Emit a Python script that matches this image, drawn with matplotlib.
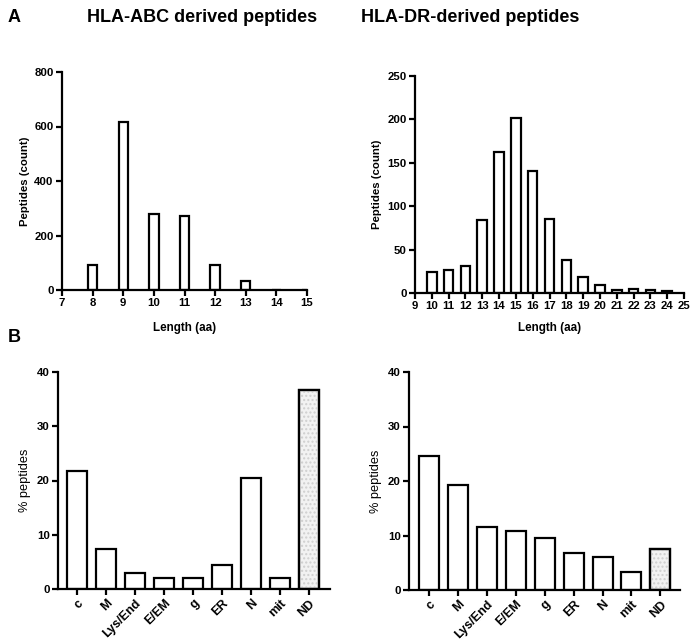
import matplotlib
matplotlib.use("Agg")
import matplotlib.pyplot as plt

plt.rcParams['font.family'] = ['Liberation Sans', 'DejaVu Sans']

# Peptide length distributions
abc_lengths = [8, 9, 10, 11, 12, 13, 14, 15]
abc_counts = [92, 615, 279, 270, 92, 34, 0, 0]

dr_lengths = [10, 11, 12, 13, 14, 15, 16, 17, 18, 19, 20, 21, 22, 23, 24]
dr_counts = [24, 26, 31, 84, 162, 202, 140, 85, 38, 18, 9, 3, 5, 3, 2]

# Subcellular localisation of source proteins
locations = ["c", "M", "Lys/End", "E/EM", "g", "ER", "N", "mit", "ND"]
abc_pct = [21.7, 7.4, 2.9, 2.0, 2.0, 4.5, 20.5, 2.1, 36.7]
dr_pct = [24.6, 19.2, 11.6, 10.9, 9.5, 6.7, 6.1, 3.3, 7.5]

LW = 1.6
W, H = 692, 640
fig = plt.figure(figsize=(W / 100, H / 100), dpi=100)


def rect(l, t, r, b):
    return [l / W, 1 - b / H, (r - l) / W, (b - t) / H]


def style(ax, xsize=8.2):
    for s in ("top", "right"):
        ax.spines[s].set_visible(False)
    for s in ("left", "bottom"):
        ax.spines[s].set_linewidth(LW)
    ax.tick_params(width=LW, length=4, labelsize=8.2, pad=2)
    ax.tick_params(axis="x", labelsize=xsize)
    for lab in ax.get_xticklabels() + ax.get_yticklabels():
        lab.set_fontweight("bold")


# Top-left: HLA-ABC length histogram
ax1 = fig.add_axes(rect(62, 72, 307, 290))
ax1.bar(abc_lengths, abc_counts, width=0.31, facecolor="white",
        edgecolor="black", linewidth=LW)
ax1.set_xlim(7, 15)
ax1.set_ylim(0, 800)
ax1.set_xticks(range(7, 16))
ax1.set_yticks(range(0, 801, 200))
ax1.set_ylabel("Peptides (count)", fontsize=8.2, fontweight="bold", labelpad=3)
ax1.set_xlabel("Length (aa)", fontsize=8.4, fontweight="bold", labelpad=10)
style(ax1)

# Top-right: HLA-DR length histogram
ax2 = fig.add_axes(rect(415, 76, 684, 293))
ax2.bar(dr_lengths, dr_counts, width=0.57, facecolor="white",
        edgecolor="black", linewidth=LW)
ax2.set_xlim(9, 25)
ax2.set_ylim(0, 250)
ax2.set_xticks(range(9, 26))
ax2.set_yticks(range(0, 251, 50))
ax2.set_ylabel("Peptides (count)", fontsize=8.2, fontweight="bold", labelpad=4)
ax2.set_xlabel("Length (aa)", fontsize=8.4, fontweight="bold", labelpad=8)
style(ax2)


def loc_panel(ax, values, xlim):
    x = list(range(len(locations)))
    bars = ax.bar(x, values, width=0.69, facecolor="white",
                  edgecolor="black", linewidth=LW, zorder=2)
    nd = bars[-1]
    nd.set_facecolor("#f2f2f2")
    ax.bar(x[-1], values[-1], width=0.69, facecolor="none",
           edgecolor="#cfcfcf", hatch="....", linewidth=0, zorder=2.5)
    ax.bar(x[-1], values[-1], width=0.69, facecolor="none",
           edgecolor="black", linewidth=LW, zorder=3)
    ax.set_xlim(*xlim)
    ax.set_ylim(0, 40)
    ax.set_yticks(range(0, 41, 10))
    ax.set_xticks(x)
    ax.set_xticklabels(locations, rotation=45, ha="right",
                       rotation_mode="anchor")
    ax.set_ylabel("% peptides", fontsize=9.2, labelpad=4.5)
    style(ax, xsize=9)


ax3 = fig.add_axes(rect(58, 372, 330, 589))
loc_panel(ax3, abc_pct, (-0.67, 8.74))

ax4 = fig.add_axes(rect(409, 372, 680, 590))
loc_panel(ax4, dr_pct, (-0.70, 8.68))

# Panel letters and column titles
fig.text(8 / W, 1 - 17 / H, "A", fontsize=13, fontweight="bold", va="center")
fig.text(8 / W, 1 - 338 / H, "B", fontsize=13, fontweight="bold", va="center")
fig.text(202 / W, 1 - 17 / H, "HLA-ABC derived peptides", fontsize=13,
         fontweight="bold", va="center", ha="center")
fig.text(470 / W, 1 - 17 / H, "HLA-DR-derived peptides", fontsize=13,
         fontweight="bold", va="center", ha="center")

fig.savefig("out.png", dpi=100)
